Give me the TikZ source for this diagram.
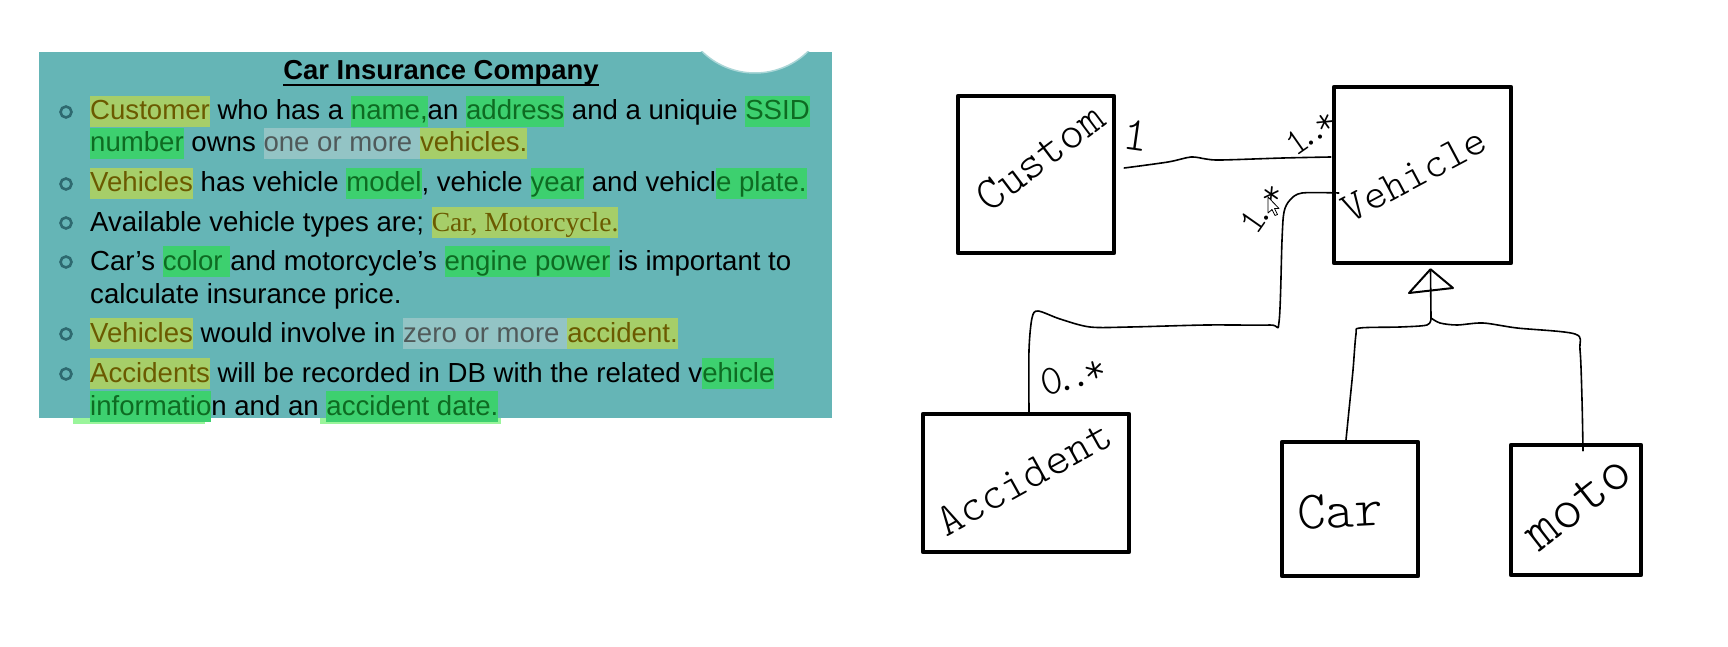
\documentclass[tikz,border=0pt]{standalone}
\usepackage{fontspec}
\setmainfont{Liberation Sans}
\newfontfamily\slideserif{Liberation Serif}
\newfontfamily\handfont{lmmonolt10-regular.otf}
\usetikzlibrary{calc}
\definecolor{slidebg}{HTML}{65B5B6}
\definecolor{hlyellow}{HTML}{A6CE69}
\definecolor{hlgreen}{HTML}{3DD06F}
\definecolor{hlgrey}{HTML}{93C4C5}
\definecolor{hlpale}{HTML}{9AF59B}
\definecolor{olivetxt}{HTML}{6B5A00}
\definecolor{greentxt}{HTML}{0E6B22}
\definecolor{greytxt}{HTML}{505A5A}
\definecolor{bulletcol}{HTML}{2E6A70}
\newlength\hlwd
\newcommand\hlmark[3]{\settowidth\hlwd{#3}\rlap{\textcolor{#1}{\rule[-7pt]{\hlwd}{31pt}}}\textcolor{#2}{#3}}
\newcommand\hly[1]{\hlmark{hlyellow}{olivetxt}{#1}}
\newcommand\hlg[1]{\hlmark{hlgreen}{greentxt}{#1}}
\newcommand\hlr[1]{\hlmark{hlgrey}{greytxt}{#1}}

\begin{document}
\begin{tikzpicture}[x=1pt,y=-1pt,
  umlbox/.style={draw,line width=4.5pt,line join=round,inner sep=0pt},
  conn/.style={line width=1.6pt,line join=round,line cap=round},
  hand/.style={font={\handfont\fontsize{#1}{#1}\selectfont},inner sep=0pt},
  body/.style={anchor=base west,inner sep=0pt,font=\fontsize{27.6}{32}\selectfont}]

\useasboundingbox (0,0) rectangle (1728,647);

% slide panel
\fill[slidebg] (39,52) rectangle (832,418);
\begin{scope}
  \clip (39,52) rectangle (832,418);
  \filldraw[fill=white,draw=slidebg!55!white,line width=1.5pt] (755,-3) circle (76pt);
\end{scope}
\fill[hlpale] (73,418) rectangle (205,424);
\fill[hlpale] (320,418) rectangle (501,424);

\node[anchor=base,inner sep=0pt,font=\bfseries\fontsize{27.4}{30}\selectfont] (title) at (441,80) {Car Insurance Company};
\draw[line width=1.8pt] ($(title.base west)+(0,5)$) -- ($(title.base east)+(0,5)$);

\foreach \yb in {120,192,231,270,342,382}{
  \draw[bulletcol,line width=2.6pt] (66,\yb-8) circle (5.5pt);
}

\node[body] (line1) at (90,120) {\hly{Customer} who has a \hlg{name,}an \hlg{address} and a uniquie \hlg{SSID}};
\node[body] (line2) at (90,152) {\hlg{number} owns \hlr{one or more }\hly{vehicles.}};
\node[body] (line3) at (90,192) {\hly{Vehicles} has vehicle \hlg{model}, vehicle \hlg{year} and vehicl\hlg{e plate.}};
\node[body] (line4) at (90,231) {Available vehicle types are; \hly{\slideserif Car, Motorcycle.}};
\node[body] (line5) at (90,270) {Car’s \hlg{color }and motorcycle’s \hlg{engine power} is important to};
\node[body] (line6) at (90,303) {calculate insurance price.};
\node[body] (line7) at (90,342) {\hly{Vehicles} would involve in \hlr{zero or more }\hly{accident.}};
\node[body] (line8) at (90,382) {\hly{Accidents} will be recorded in DB with the related v\hlg{ehicle}};
\node[body] (line9) at (90,415) {\hlg{informatio}n and an \hlg{accident date.}};

% class boxes
\node[umlbox,minimum width=156pt,minimum height=157pt] (cust) at (1036,174.5) {};
\node[umlbox,minimum width=177pt,minimum height=176pt] (veh) at (1422.5,175) {};
\node[umlbox,minimum width=206pt,minimum height=138pt] (acc) at (1026,483) {};
\node[umlbox,minimum width=136pt,minimum height=134pt] (car) at (1350,509) {};
\node[umlbox,minimum width=130pt,minimum height=130pt] (moto) at (1576,510) {};

\node[hand=47,rotate=37] (custlbl) at (1040,157) {Custom};
\node[hand=43,rotate=28] (vehlbl) at (1414,175) {Vehicle};
\node[hand=46,rotate=29] (acclbl) at (1024,478) {Accident};
\node[hand=54,rotate=3] (carlbl) at (1340,511) {Car};
\node[hand=58,rotate=38] (motolbl) at (1578,503) {moto};

% associations
\draw[conn] plot[smooth,tension=0.5] coordinates {($(cust.east)+(8,-6.5)$) (1168,162) (1191,157) (1206,159) (1221,160) (1283,158) ($(veh.west)+(-1,-18)$)};
\draw[conn] plot[smooth,tension=0.5] coordinates {($(veh.west)+(7,18)$) (1302,193) (1290,200) (1284,212) (1282,240) (1279,322) (1270,325) (1206,325) (1130,327) (1090,327) (1060,319) (1038,311) (1032,318) (1029,350) ($(acc.north)+(3,0)$)};

\node[hand=48,rotate=-8] (mcust) at (1136,135) {1};
\node[hand=38,rotate=35] (mveh) at (1311,132) {1\kern-9pt.\kern-9pt.\kern-8pt*};
\node[hand=38,rotate=55] (mvehacc) at (1262,208) {1\kern-9pt.\kern-9pt.\kern-8pt*};
\node[hand=42,rotate=15] (macc) at (1073,376) {0\kern-8pt.\kern-8pt.\kern-6pt*};

% generalisation
\draw[conn,line width=2pt] ($(veh.south)+(8,4)$) -- (1409,293) -- (1453,288) -- cycle;
\coordinate (fork) at (1431,318);
\draw[conn] ($(veh.south)+(8,6)$) -- (fork);
\draw[conn] plot[smooth,tension=0.5] coordinates {(fork) (1427,325) (1400,327) (1360,328) (1356,334) (1353,370) (1349,410) ($(car.north)+(-4,0)$)};
\draw[conn] plot[smooth,tension=0.5] coordinates {(fork) (1440,323) (1457,325) (1483,323) (1517,328) (1575,334) (1580,350) (1582,400) ($(moto.north)+(7,8)$)};

% mouse pointer
\filldraw[fill=white,draw=black,line width=0.8pt,line join=round] (1268,197) -- (1268,213) -- (1272,209.5) -- (1275,215.5) -- (1277.5,214.5) -- (1274.5,208.5) -- (1279,208.5) -- cycle;

\end{tikzpicture}
\end{document}
